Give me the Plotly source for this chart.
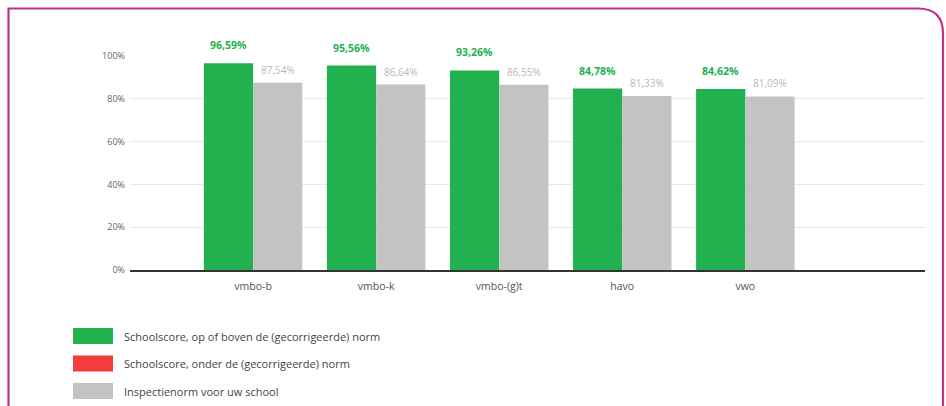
import plotly.graph_objects as go

categories = ["vmbo-b", "vmbo-k", "vmbo-(g)t", "havo", "vwo"]
school_scores = [96.59, 95.56, 93.26, 84.78, 84.62]
norm_scores = [87.54, 86.64, 86.55, 81.33, 81.09]
y_ticks = [0, 20, 40, 60, 80, 100]
y_tick_labels = ["0%", "20%", "40%", "60%", "80%", "100%"]
legend_labels = [
    "Schoolscore, op of boven de (gecorrigeerde) norm",
    "Schoolscore, onder de (gecorrigeerde) norm",
    "Inspectienorm voor uw school",
]

GREEN = "#21b24f"
RED = "#f23d3d"
GREY = "#c3c3c3"
MAGENTA = "#c22d8e"
FONT = "Open Sans"

W, H = 946, 406
L, R, T, B = 130, 21, 56, 136
PW, PH = W - L - R, H - T - B


def px(x):
    return (x - L) / PW


def py(y):
    return (H - B - y) / PH


def fmt(v):
    return f"{v:.2f}".replace(".", ",") + "%"


fig = go.Figure()
fig.add_trace(go.Bar(
    x=categories, y=school_scores, marker_color=GREEN, name=legend_labels[0],
    marker_line_width=0,
))
fig.add_trace(go.Bar(
    x=categories, y=norm_scores, marker_color=GREY, name=legend_labels[2],
    marker_line_width=0,
))

annotations = []
for c, v in zip(categories, school_scores):
    annotations.append(dict(x=c, y=v, xref="x", yref="y", text="<b>" + fmt(v) + "</b>",
                            showarrow=False, xshift=-24.5, yshift=18, yanchor="middle",
                            font=dict(size=10.5, color=GREEN, family=FONT)))
for c, v in zip(categories, norm_scores):
    annotations.append(dict(x=c, y=v, xref="x", yref="y", text=fmt(v),
                            showarrow=False, xshift=24.5, yshift=13, yanchor="middle",
                            font=dict(size=10, color="#b8b8b8", family=FONT)))

shapes = []
# frame
r = 25
x0, y0, x1 = 8.5, 8.5, 943
path = (f"M {px(x0)},{py(H + 5)} L {px(x0)},{py(y0)} L {px(x1 - r)},{py(y0)} "
        f"Q {px(x1)},{py(y0)} {px(x1)},{py(y0 + r)} L {px(x1)},{py(H + 5)}")
shapes.append(dict(type="path", path=path, xref="paper", yref="paper",
                   line=dict(color=MAGENTA, width=2.2)))

# legend swatches
for i, (lab, col) in enumerate(zip(legend_labels, [GREEN, RED, GREY])):
    top = 328 + i * 27.5
    shapes.append(dict(type="rect", xref="paper", yref="paper",
                       x0=px(73), x1=px(113), y0=py(top), y1=py(top + 16),
                       fillcolor=col, line=dict(width=0)))
    annotations.append(dict(xref="paper", yref="paper", x=px(122), y=py(top + 8),
                            text=lab, showarrow=False, xanchor="left", yanchor="middle",
                            font=dict(size=11, color="#444", family=FONT)))

fig.update_layout(
    width=W, height=H,
    margin=dict(l=L, r=R, t=T, b=B),
    paper_bgcolor="white", plot_bgcolor="white",
    barmode="group", bargap=0.2, bargroupgap=0,
    showlegend=False,
    shapes=shapes, annotations=annotations,
    font=dict(family=FONT),
)
fig.update_xaxes(
    range=[-1.0, 5.46], showgrid=False, showline=True, linecolor="#333", linewidth=1.5,
    ticks="", tickfont=dict(size=10.5, color="#555", family=FONT), ticklabelstandoff=6,
)
fig.update_yaxes(
    range=[0, 100], tickvals=y_ticks, ticktext=y_tick_labels,
    showgrid=True, gridcolor="#e8e8e8", gridwidth=1, zeroline=False,
    tickfont=dict(size=9, color="#666", family=FONT), ticks="", ticklabelstandoff=4,
)

fig.write_html(
    "out.html",
    config={"displayModeBar": False},
    post_script="document.body.style.margin='0';document.body.style.overflow='hidden';",
)
